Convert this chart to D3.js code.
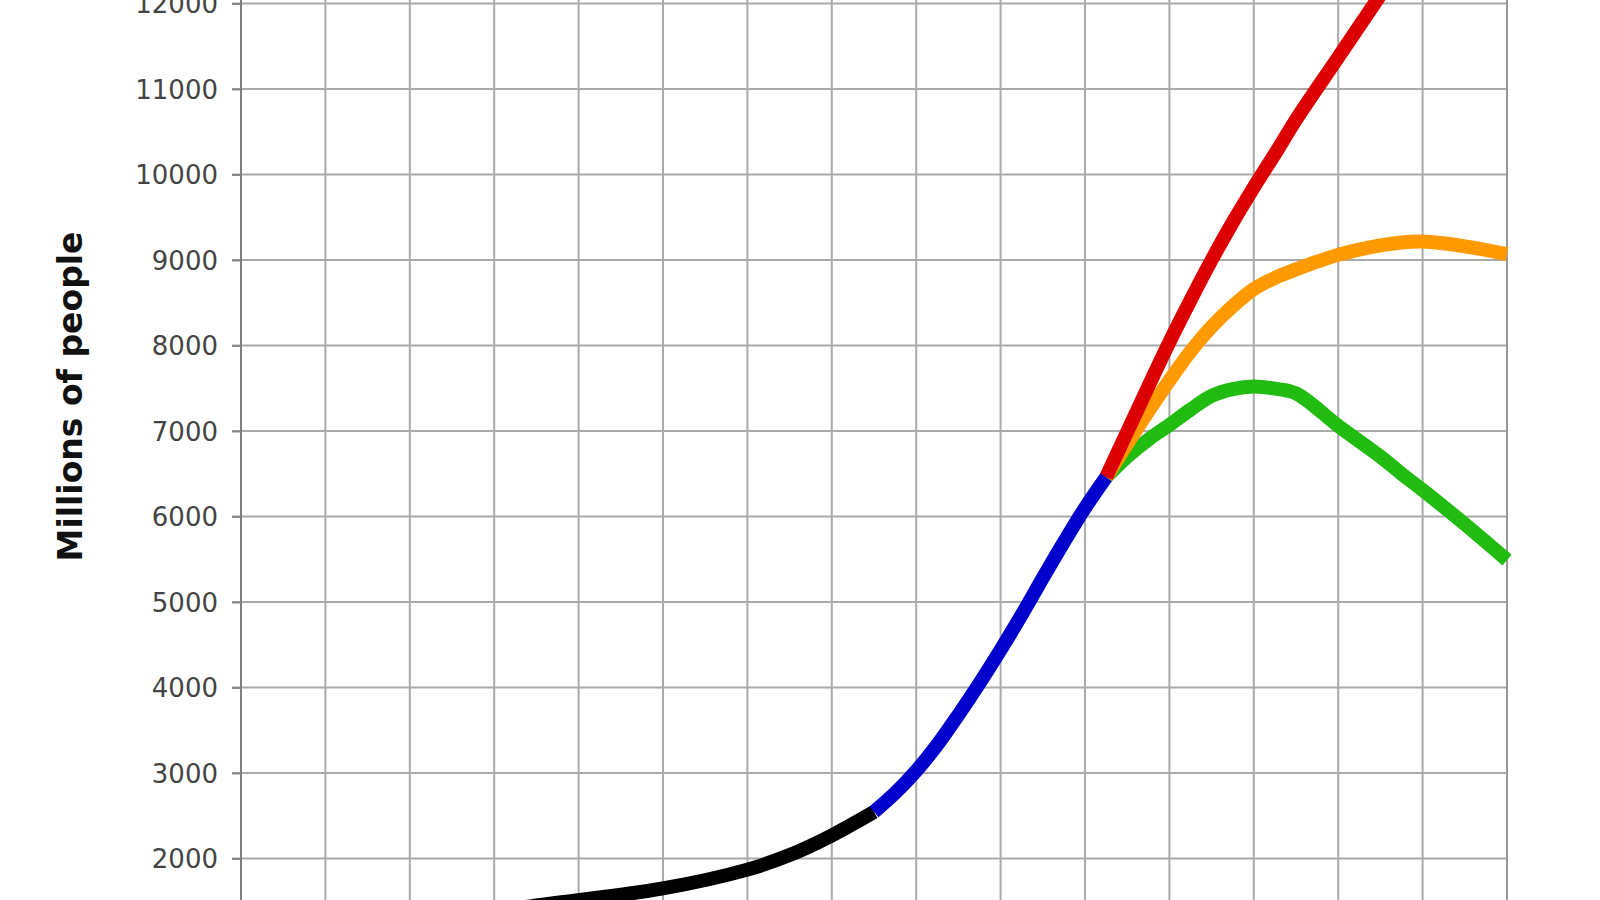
<!DOCTYPE html>
<html>
<head>
<meta charset="utf-8">
<script src="https://cdn.jsdelivr.net/npm/d3@7"></script>
<style>
    html, body { margin: 0; padding: 0; background: #fff; }
    #chart { width: 1600px; height: 900px; overflow: hidden; }
</style>
</head>
<body>
<div id="chart"></div>
<script>
// grid / tick values
const yearTicks = [1800, 1820, 1840, 1860, 1880, 1900, 1920, 1940, 1960, 1980, 2000, 2020, 2040, 2060, 2080, 2100];
const popTicks = [1000, 2000, 3000, 4000, 5000, 6000, 7000, 8000, 9000, 10000, 11000, 12000, 13000];
const popLabels = [2000, 3000, 4000, 5000, 6000, 7000, 8000, 9000, 10000, 11000, 12000];

// historical estimates (black)
const histYears = [1800, 1850, 1870, 1900, 1920, 1930, 1940, 1950];
const histPop = [1000, 1300, 1450, 1650, 1870, 2040, 2270, 2545];

// UN estimates 1950-2005 (blue)
const estYears = [1950, 1955, 1960, 1965, 1970, 1975, 1980, 1985, 1990, 1995, 2000, 2005];
const estPop = [2545, 2765, 3025, 3330, 3680, 4050, 4440, 4850, 5280, 5700, 6100, 6460];

// projections 2005-2100
const projYears = [2005, 2010, 2015, 2020, 2025, 2030, 2035, 2040, 2045, 2050, 2060, 2070, 2075, 2080, 2090, 2100];
const highPop = [6460, 6990, 7520, 8040, 8530, 9000, 9440, 9850, 10240, 10640, 11370, 12100, 12465, 12830, 13560, 14290];
const mediumPop = [6460, 6850, 7230, 7590, 7930, 8220, 8460, 8660, 8790, 8890, 9060, 9170, 9205, 9215, 9160, 9070];
const lowPop = [6460, 6700, 6900, 7070, 7250, 7410, 7490, 7520, 7495, 7440, 7060, 6700, 6500, 6310, 5910, 5490];

class PopulationChart {
    constructor(parentElement) {
        this.parentElement = parentElement;
        this.width = 1600;
        this.height = 900;
        this.lineWidth = 14;
        this.initVis();
    }

    initVis() {
        let vis = this;

        vis.svg = d3.select(vis.parentElement)
            .append("svg")
            .attr("width", vis.width)
            .attr("height", vis.height);

        vis.x = d3.scaleLinear().domain([1800, 2100]).range([241, 1507]);
        vis.y = d3.scaleLinear().domain([2000, 12000]).range([858.5, 3.5]);

        vis.series = [
            { name: "low", years: projYears, values: lowPop, color: "#22bb11" },
            { name: "medium", years: projYears, values: mediumPop, color: "#ff9900" },
            { name: "high", years: projYears, values: highPop, color: "#dd0000" },
            { name: "history", years: histYears, values: histPop, color: "#000000" },
            { name: "estimate", years: estYears, values: estPop, color: "#0000cc" }
        ];

        vis.updateVis();
    }

    updateVis() {
        let vis = this;
        const yTop = vis.y(d3.max(popTicks));
        const yBottom = vis.y(d3.min(popTicks));

        // grid
        vis.svg.append("g")
            .selectAll("line")
            .data(popTicks)
            .enter()
            .append("line")
            .attr("x1", vis.x(1800) - 9)
            .attr("x2", vis.x(2100))
            .attr("y1", d => vis.y(d))
            .attr("y2", d => vis.y(d))
            .attr("stroke", "#aaaaaa")
            .attr("stroke-width", 2);

        vis.svg.append("g")
            .selectAll("line")
            .data(yearTicks)
            .enter()
            .append("line")
            .attr("x1", d => vis.x(d))
            .attr("x2", d => vis.x(d))
            .attr("y1", yTop)
            .attr("y2", yBottom)
            .attr("stroke", d => d === 2100 ? "#999999" : "#aaaaaa")
            .attr("stroke-width", 2);

        // y axis, labels only where the reference shows them
        const yAxis = d3.axisLeft(vis.y)
            .tickValues(popLabels)
            .tickSize(9)
            .tickPadding(14)
            .tickFormat(d3.format("d"));

        const axisG = vis.svg.append("g")
            .attr("transform", `translate(${vis.x(1800)},0)`)
            .call(yAxis);

        axisG.select(".domain").remove();
        axisG.selectAll(".tick line")
            .attr("stroke", "#888888")
            .attr("stroke-width", 2);
        axisG.selectAll(".tick text")
            .attr("dy", "0.36em")
            .attr("fill", "#444444")
            .style("font-family", "'DejaVu Sans', Verdana, sans-serif")
            .style("font-size", "26px");

        axisG.append("line")
            .attr("x1", 0)
            .attr("x2", 0)
            .attr("y1", yTop)
            .attr("y2", yBottom)
            .attr("stroke", "#808080")
            .attr("stroke-width", 2);

        // y title
        vis.svg.append("text")
            .attr("transform", "translate(82,396.5) rotate(-90)")
            .attr("text-anchor", "middle")
            .attr("fill", "#111111")
            .style("font-family", "'DejaVu Sans', Verdana, sans-serif")
            .style("font-size", "33px")
            .style("font-weight", "bold")
            .text("Millions of people");

        // lines
        const line = d3.line()
            .x(d => vis.x(d[0]))
            .y(d => vis.y(d[1]))
            .curve(d3.curveCatmullRom.alpha(0.5));

        vis.svg.append("g")
            .selectAll("path")
            .data(vis.series)
            .enter()
            .append("path")
            .attr("d", d => line(d3.zip(d.years, d.values)))
            .attr("fill", "none")
            .attr("stroke", d => d.color)
            .attr("stroke-width", vis.lineWidth)
            .attr("stroke-linejoin", "round")
            .attr("stroke-linecap", "butt");
    }
}

const chart = new PopulationChart("#chart");
</script>
</body>
</html>
